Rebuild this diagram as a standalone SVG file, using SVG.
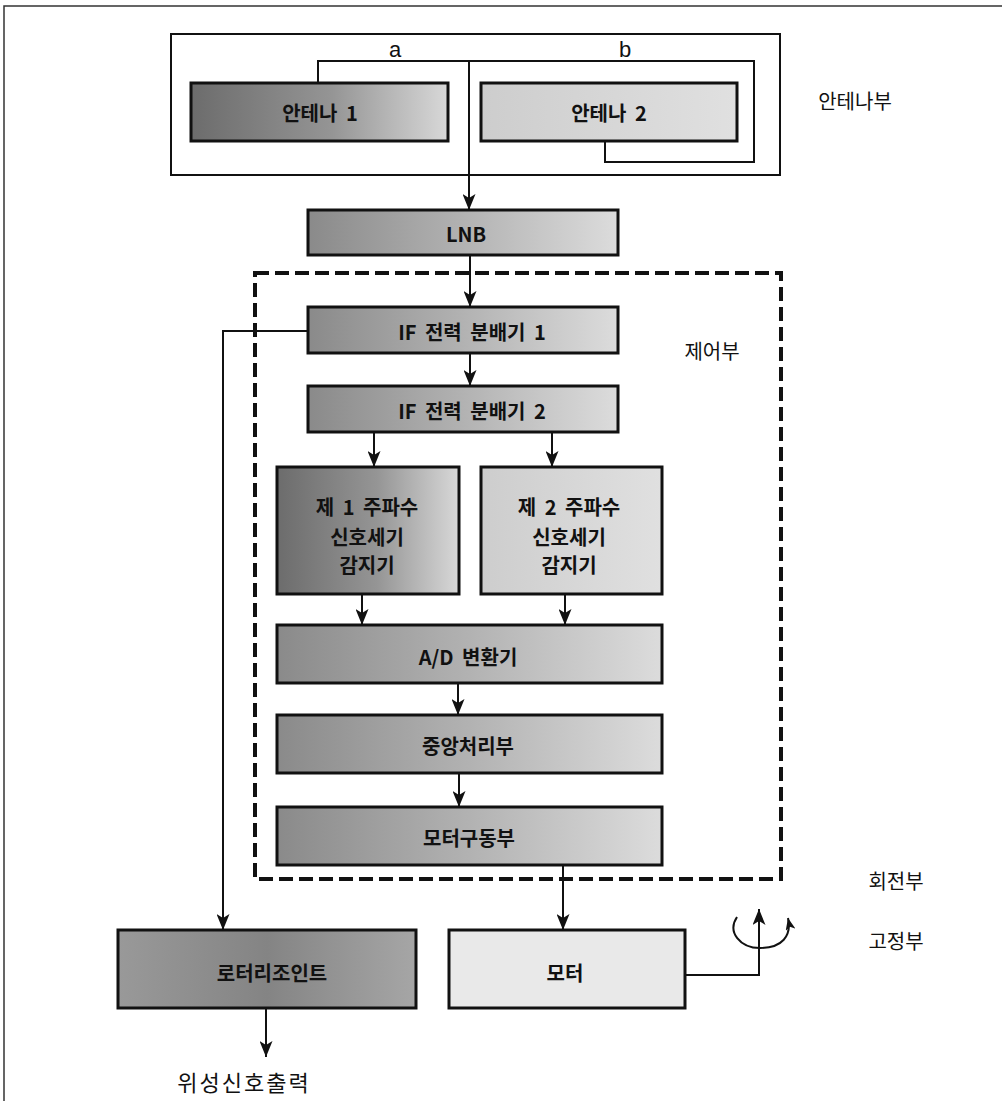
<svg xmlns="http://www.w3.org/2000/svg" width="1002" height="1101" viewBox="0 0 1002 1101">
<defs>
  <style>
    .frame{fill:none;stroke:#333;stroke-width:1.5}
    .box{stroke:#111;stroke-width:3}
    .outer{fill:none;stroke:#111;stroke-width:2}
    .dash{fill:none;stroke:#111;stroke-width:4;stroke-dasharray:14 6}
    .wire{fill:none;stroke:#111;stroke-width:2}
    .arr{fill:none;stroke:#111;stroke-width:2;marker-end:url(#ah)}
    .nt{font-family:'Noto Sans CJK KR','Liberation Sans',sans-serif;font-weight:bold;font-size:20px;fill:#111;text-anchor:middle;dominant-baseline:central;word-spacing:4px}
    .lt{font-family:'Noto Sans CJK KR','Liberation Sans',sans-serif;font-size:20px;fill:#111;text-anchor:middle;dominant-baseline:central}
    .ab{font-family:'Liberation Sans Narrow','Liberation Sans',sans-serif;font-size:22px;fill:#111;text-anchor:middle}
  </style>
  <linearGradient id="gDark" x1="0" y1="0" x2="1" y2="0">
    <stop offset="0" stop-color="#6c6c6c"/><stop offset="0.55" stop-color="#959595"/><stop offset="1" stop-color="#d8d8d8"/>
  </linearGradient>
  <linearGradient id="gMid" x1="0" y1="0" x2="1" y2="0">
    <stop offset="0" stop-color="#8a8a8a"/><stop offset="0.5" stop-color="#b2b2b2"/><stop offset="1" stop-color="#dcdcdc"/>
  </linearGradient>
  <linearGradient id="gLight" x1="0" y1="0" x2="1" y2="0">
    <stop offset="0" stop-color="#cdcdcd"/><stop offset="1" stop-color="#e0e0e0"/>
  </linearGradient>
  <linearGradient id="gRot" x1="0" y1="0" x2="1" y2="0">
    <stop offset="0" stop-color="#999"/><stop offset="0.5" stop-color="#848484"/><stop offset="1" stop-color="#a6a6a6"/>
  </linearGradient>
  <marker id="ah" markerUnits="userSpaceOnUse" markerWidth="16" markerHeight="13" refX="16" refY="6.5" orient="auto">
    <path d="M0,0 L16,6.5 L0,13 L4,6.5 z" fill="#111"/>
  </marker>
  <marker id="ah2" markerUnits="userSpaceOnUse" markerWidth="12" markerHeight="10" refX="12" refY="5" orient="auto">
    <path d="M0,0 L12,5 L0,10 L3,5 z" fill="#111"/>
  </marker>
</defs>

<path class="frame" d="M4,1101 V6 H1002"/>

<g id="antenna-section">
  <rect class="outer" x="171" y="34" width="609" height="141"/>
  <text class="lt" x="855" y="100">안테나부</text>
</g>
<g id="antenna1">
  <rect class="box" x="191" y="83" width="257" height="58" fill="url(#gDark)"/>
  <text class="nt" x="320" y="112">안테나 1</text>
</g>
<g id="antenna2">
  <rect class="box" x="481" y="83" width="256" height="58" fill="url(#gLight)"/>
  <text class="nt" x="609" y="112">안테나 2</text>
</g>
<g id="lnb">
  <rect class="box" x="308" y="210" width="310" height="45" fill="url(#gMid)"/>
  <text class="nt" x="466" y="233">LNB</text>
</g>
<g id="control-section">
  <rect class="dash" x="255" y="273" width="526" height="606"/>
  <text class="lt" x="712" y="350">제어부</text>
</g>
<g id="if1">
  <rect class="box" x="308" y="307" width="310" height="46" fill="url(#gMid)"/>
  <text class="nt" x="472" y="331">IF 전력 분배기 1</text>
</g>
<g id="if2">
  <rect class="box" x="308" y="386" width="310" height="46" fill="url(#gMid)"/>
  <text class="nt" x="472" y="410">IF 전력 분배기 2</text>
</g>
<g id="detector1">
  <rect class="box" x="277" y="467" width="182" height="127" fill="url(#gDark)"/>
  <text class="nt" x="367" y="506">제 1 주파수</text>
  <text class="nt" x="367" y="536">신호세기</text>
  <text class="nt" x="367" y="564">감지기</text>
</g>
<g id="detector2">
  <rect class="box" x="481" y="467" width="181" height="127" fill="url(#gLight)"/>
  <text class="nt" x="569" y="506">제 2 주파수</text>
  <text class="nt" x="569" y="536">신호세기</text>
  <text class="nt" x="569" y="564">감지기</text>
</g>
<g id="adc">
  <rect class="box" x="277" y="625" width="385" height="58" fill="url(#gMid)"/>
  <text class="nt" x="468" y="656">A/D 변환기</text>
</g>
<g id="cpu">
  <rect class="box" x="277" y="715" width="385" height="58" fill="url(#gMid)"/>
  <text class="nt" x="468" y="745">중앙처리부</text>
</g>
<g id="motor-driver">
  <rect class="box" x="277" y="807" width="385" height="58" fill="url(#gMid)"/>
  <text class="nt" x="469" y="837">모터구동부</text>
</g>
<g id="rotary-joint">
  <rect class="box" x="118" y="930" width="298" height="78" fill="url(#gRot)"/>
  <text class="nt" x="272" y="972">로터리조인트</text>
</g>
<g id="motor">
  <rect class="box" x="449" y="930" width="236" height="78" fill="#e9e9e9"/>
  <text class="nt" x="565" y="972">모터</text>
</g>
<g id="side-labels">
  <text class="lt" x="896" y="880">회전부</text>
  <text class="lt" x="896" y="940">고정부</text>
  <text class="lt" x="244" y="1081" style="font-size:22px;letter-spacing:2px">위성신호출력</text>
</g>

<g id="connectors">
  <text class="ab" x="395" y="57">a</text>
  <text class="ab" x="625" y="57">b</text>
  <path class="wire" d="M318,83 V61 H754 V162 H605 V141"/>
  <path class="arr" d="M469,61 V210"/>
  <path class="arr" d="M470,255 V307"/>
  <path class="arr" d="M470,353 V386"/>
  <path class="arr" d="M308,331 H223 V930"/>
  <path class="arr" d="M374,432 V467"/>
  <path class="arr" d="M552,432 V467"/>
  <path class="arr" d="M362,594 V625"/>
  <path class="arr" d="M565,594 V625"/>
  <path class="arr" d="M458,683 V715"/>
  <path class="arr" d="M459,773 V807"/>
  <path class="arr" d="M563,865 V930"/>
  <path class="arr" d="M266,1008 V1057"/>
  <path class="arr" d="M685,975 H759 V909"/>
  <path class="wire" style="marker-end:url(#ah2)" d="M737,917 C727,932 740,948 760,948 C782,948 792,936 788,918"/>
</g>
</svg>
